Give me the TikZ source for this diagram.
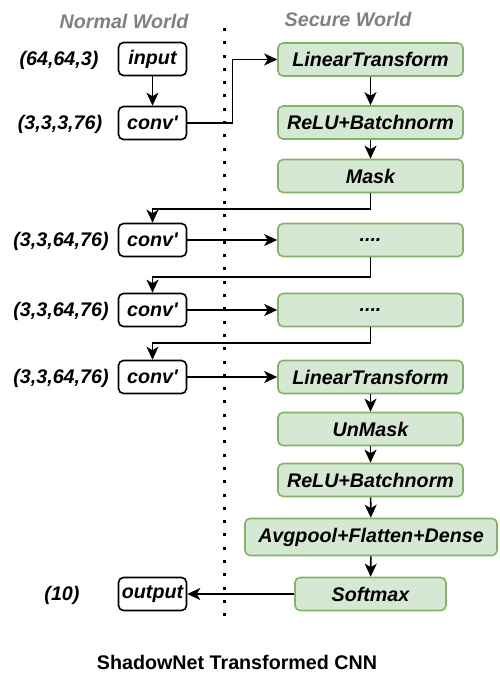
\documentclass[tikz,border=0pt]{standalone}
\usepackage{fontspec}
\setmainfont{Liberation Sans}[Ligatures=TeXOff]
\usetikzlibrary{arrows.meta}
\definecolor{gfill}{HTML}{D5E8D4}
\definecolor{gdraw}{HTML}{82B366}
\definecolor{wtitle}{HTML}{808080}
\tikzset{
  txt/.style={font=\fontsize{19.7}{22}\selectfont\bfseries\itshape, inner sep=0pt},
  nw/.style={txt, draw=black, line width=1.6pt, rounded corners=5pt, minimum width=68pt, minimum height=33pt, fill=white},
  sw/.style={txt, draw=gdraw, fill=gfill, line width=1.6pt, rounded corners=5pt, minimum height=33pt},
  conn/.style={line width=1.6pt, -{Stealth[length=13pt,width=12pt,inset=3.5pt]}},
  dimlab/.style={txt},
  wlab/.style={txt, text=wtitle},
}
\begin{document}
\begin{tikzpicture}[x=1pt,y=-1pt]
\useasboundingbox (0,0) rectangle (499,682);
% world labels
\node[wlab] (nwl) at (124,21) {Normal World};
\node[wlab] (swl) at (348,19) {Secure World};
% divider
\coordinate (dtop) at (224,28);
\coordinate (dbot) at (224,618);
\draw[line width=3pt, dash pattern=on 3pt off 10.3pt] (dtop) -- (dbot);
% normal world
\node[nw] (input) at (152.5,59) {input};
\node[nw] (c1) at (152.5,123) {conv'};
\node[nw] (c2) at (152.5,240) {conv'};
\node[nw] (c3) at (152.5,310) {conv'};
\node[nw] (c4) at (152.5,377) {conv'};
\node[nw] (out) at (152.5,594) {output};
% dims
\node[dimlab] (d0) at (59,60) {(64,64,3)};
\node[dimlab] (d1) at (60,124) {(3,3,3,76)};
\node[dimlab] (d2) at (61,241) {(3,3,64,76)};
\node[dimlab] (d3) at (61,311) {(3,3,64,76)};
\node[dimlab] (d4) at (61,378) {(3,3,64,76)};
\node[dimlab] (d5) at (62,595) {(10)};
% secure world
\node[sw, minimum width=185pt] (lt1) at (370.5,59.5) {LinearTransform};
\node[sw, minimum width=185pt] (rb1) at (370.5,122.5) {ReLU+Batchnorm};
\node[sw, minimum width=185pt] (mask) at (370.5,176) {Mask};
\node[sw, minimum width=185pt] (dt1) at (370.5,240) {....};
\node[sw, minimum width=185pt] (dt2) at (370.5,310) {....};
\node[sw, minimum width=185pt] (lt2) at (370.5,377) {LinearTransform};
\node[sw, minimum width=185pt] (um) at (370.5,429) {UnMask};
\node[sw, minimum width=185pt] (rb2) at (370.5,480) {ReLU+Batchnorm};
\node[sw, minimum width=252pt, minimum height=37pt] (avg) at (371,537) {Avgpool+Flatten+Dense};
\node[sw, minimum width=151pt] (sm) at (370.5,594) {Softmax};
% connectors
\draw[conn] (input) -- (c1);
\draw[conn] (c1.east) -- ++(45,0) |- (lt1.west);
\draw[conn] (lt1) -- (rb1);
\draw[conn] (rb1) -- (mask);
\draw[conn] (mask.south) |- (152.5,209) -- (c2.north);
\draw[conn] (c2) -- (dt1);
\draw[conn] (dt1.south) |- (152.5,277) -- (c3.north);
\draw[conn] (c3) -- (dt2);
\draw[conn] (dt2.south) |- (152.5,343) -- (c4.north);
\draw[conn] (c4) -- (lt2);
\draw[conn] (lt2) -- (um);
\draw[conn] (um) -- (rb2);
\draw[conn] (rb2) -- (avg);
\draw[conn] (avg) -- (sm);
\draw[conn] (sm) -- (out);
% caption
\node[font=\fontsize{19.7}{22}\selectfont\bfseries, inner sep=0pt] (cap) at (237,662) {ShadowNet Transformed CNN};
\end{tikzpicture}
\end{document}
